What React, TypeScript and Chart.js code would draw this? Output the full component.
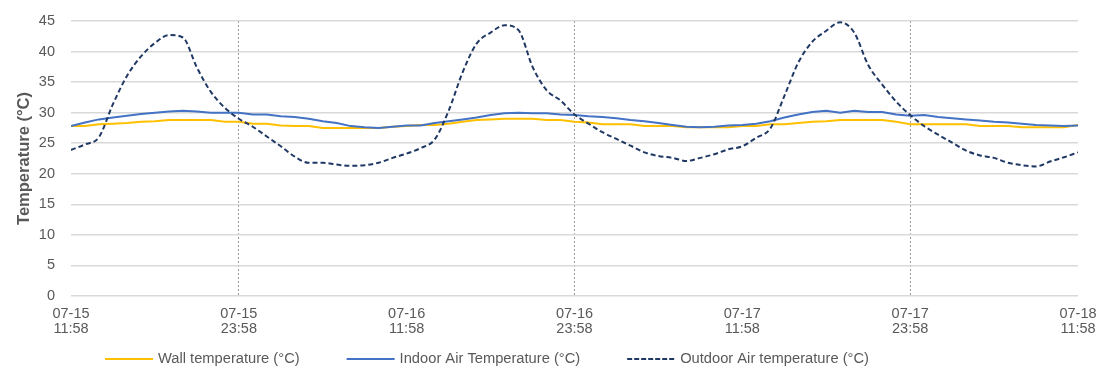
import React, { useEffect, useRef } from "react";
import { Chart, registerables } from "chart.js";

Chart.register(...registerables);

// Hours elapsed since 07-15 11:58
const HOURS = [
  0, 1, 2, 3, 4, 5, 6, 7, 8, 9, 10, 11, 12, 13, 14, 15, 16, 17, 18, 19, 20, 21, 22, 23,
  24, 25, 26, 27, 28, 29, 30, 31, 32, 33, 34, 35, 36, 37, 38, 39, 40, 41, 42, 43, 44, 45, 46, 47,
  48, 49, 50, 51, 52, 53, 54, 55, 56, 57, 58, 59, 60, 61, 62, 63, 64, 65, 66, 67, 68, 69, 70, 71, 72,
];

const WALL_TEMP = [
  27.8, 27.8, 28.1, 28.2, 28.3, 28.5, 28.6, 28.8, 28.8, 28.8, 28.8, 28.5, 28.5, 28.2, 28.2, 27.9,
  27.8, 27.8, 27.5, 27.5, 27.5, 27.5, 27.5, 27.7,
  27.8, 28.0, 28.0, 28.2, 28.5, 28.8, 28.9, 29.0, 29.0, 29.0, 28.8, 28.8, 28.5, 28.4, 28.1, 28.1,
  28.1, 27.8, 27.8, 27.8, 27.6, 27.6, 27.6, 27.6,
  27.8, 27.8, 28.1, 28.1, 28.3, 28.5, 28.6, 28.8, 28.8, 28.8, 28.8, 28.5, 28.1, 28.1, 28.1, 28.1,
  28.1, 27.8, 27.8, 27.8, 27.6, 27.6, 27.6, 27.6, 28.0,
];

const INDOOR_TEMP = [
  27.8, 28.4, 28.9, 29.2, 29.5, 29.8, 30.0, 30.2, 30.3, 30.2, 30.0, 30.0, 30.0, 29.7, 29.7, 29.4,
  29.3, 29.0, 28.6, 28.3, 27.8, 27.6, 27.5, 27.7,
  27.9, 27.9, 28.3, 28.6, 28.9, 29.2, 29.6, 29.9, 30.0, 29.9, 29.9, 29.7, 29.6, 29.4, 29.3, 29.1,
  28.8, 28.6, 28.3, 28.0, 27.7, 27.6, 27.7, 27.9,
  28.0, 28.2, 28.6, 29.2, 29.7, 30.1, 30.3, 30.0, 30.3, 30.1, 30.1, 29.7, 29.5, 29.6, 29.3, 29.1,
  28.9, 28.7, 28.5, 28.4, 28.2, 28.0, 27.9, 27.8, 27.9,
];

const OUTDOOR_TEMP = [
  23.9, 24.8, 26.0, 31.4, 36.0, 39.2, 41.4, 42.7, 42.3, 37.4, 33.4, 30.8, 29.0, 27.7, 26.1, 24.5,
  22.8, 21.8, 21.8, 21.5, 21.3, 21.4, 21.8, 22.6,
  23.3, 24.2, 25.6, 30.3, 36.6, 41.3, 43.1, 44.3, 43.5, 37.5, 33.7, 32.0, 29.7, 28.2, 26.8, 25.7,
  24.6, 23.5, 22.9, 22.6, 22.1, 22.6, 23.2, 24.0,
  24.5, 25.9, 27.4, 32.7, 38.2, 41.6, 43.4, 44.8, 43.1, 37.8, 34.6, 31.8, 29.6, 27.8, 26.4, 25.1,
  23.8, 23.0, 22.6, 21.8, 21.4, 21.2, 22.0, 22.7, 23.5,
];

const TICK_HOURS = [0, 12, 24, 36, 48, 60, 72];
const TICK_LABELS = [
  ["07-15", "11:58"],
  ["07-15", "23:58"],
  ["07-16", "11:58"],
  ["07-16", "23:58"],
  ["07-17", "11:58"],
  ["07-17", "23:58"],
  ["07-18", "11:58"],
];

const SERIES_LABELS = ["Wall temperature (°C)", "Indoor Air Temperature (°C)", "Outdoor Air temperature (°C)"];

const FONT = "'Liberation Sans', Arial, sans-serif";
const TEXT_COLOR = "#595959";
const CLEAR = "rgba(0,0,0,0)";

const lineLegend = {
  id: "lineLegend",
  afterDraw(chart: any) {
    const ctx = chart.ctx as CanvasRenderingContext2D;
    ctx.save();
    ctx.font = `14.7px ${FONT}`;
    ctx.textBaseline = "middle";
    ctx.textAlign = "left";
    const y = 359;
    let x = 105;
    chart.data.datasets.forEach((ds: any) => {
      ctx.strokeStyle = ds.borderColor;
      ctx.lineWidth = 2;
      ctx.setLineDash(ds.borderDash && ds.borderDash.length ? [5, 2] : []);
      ctx.beginPath();
      ctx.moveTo(x, y);
      ctx.lineTo(x + 48, y);
      ctx.stroke();
      ctx.setLineDash([]);
      ctx.fillStyle = TEXT_COLOR;
      ctx.fillText(ds.label, x + 53, y);
      x += 53 + ctx.measureText(ds.label).width + 47;
    });
    ctx.restore();
  },
};

export default function App() {
  const ref = useRef<HTMLCanvasElement | null>(null);

  useEffect(() => {
    document.body.style.margin = "0";
    if (!ref.current) return;
    const chart = new Chart(ref.current, {
      type: "line",
      data: {
        datasets: [
          {
            label: SERIES_LABELS[0],
            data: HOURS.map((h, i) => ({ x: h, y: WALL_TEMP[i] })),
            borderColor: "#FFC000",
            borderWidth: 2,
            pointRadius: 0,
            tension: 0,
            order: 2,
          },
          {
            label: SERIES_LABELS[1],
            data: HOURS.map((h, i) => ({ x: h, y: INDOOR_TEMP[i] })),
            borderColor: "#4472C4",
            borderWidth: 2,
            pointRadius: 0,
            tension: 0,
            order: 1,
          },
          {
            label: SERIES_LABELS[2],
            data: HOURS.map((h, i) => ({ x: h, y: OUTDOOR_TEMP[i] })),
            borderColor: "#203864",
            borderWidth: 2,
            borderDash: [5, 3],
            pointRadius: 0,
            cubicInterpolationMode: "monotone",
            order: 0,
          },
        ],
      },
      options: {
        animation: false,
        responsive: false,
        devicePixelRatio: 1,
        layout: { padding: { left: 0, right: 21, top: 21, bottom: 0 } },
        plugins: {
          legend: { display: false },
          tooltip: { enabled: false },
        },
        scales: {
          x: {
            type: "linear",
            min: 0,
            max: 72,
            afterFit: (scale: any) => {
              scale.height = 71;
            },
            border: { display: false, dash: [2, 2] },
            grid: {
              drawTicks: true,
              tickLength: 11,
              tickColor: CLEAR,
              lineWidth: 1,
              color: (c: any) => (c.tick && c.tick.value % 24 === 12 ? "#999999" : CLEAR),
            },
            ticks: {
              stepSize: 12,
              autoSkip: false,
              maxRotation: 0,
              padding: 0,
              color: TEXT_COLOR,
              font: { family: FONT, size: 14.5, lineHeight: 1.0 },
              callback: (value: any) => {
                const i = TICK_HOURS.indexOf(Number(value));
                return i >= 0 ? TICK_LABELS[i] : "";
              },
            },
          },
          y: {
            min: 0,
            max: 45,
            afterFit: (scale: any) => {
              scale.width = 71;
            },
            border: { display: false },
            grid: { drawTicks: true, tickLength: 16, tickColor: CLEAR, color: "#d9d9d9", lineWidth: 1.5 },
            ticks: {
              stepSize: 5,
              padding: 0,
              color: TEXT_COLOR,
              font: { family: FONT, size: 14.5 },
            },
            title: {
              display: true,
              text: "Temperature (°C)",
              color: TEXT_COLOR,
              font: { family: FONT, size: 16.5, weight: "bold" },
              padding: { top: 14.5, bottom: 0 },
            },
          },
        },
      },
      plugins: [lineLegend],
    } as any);
    return () => chart.destroy();
  }, []);

  return (
    <div style={{ width: 1099, height: 367 }}>
      <canvas ref={ref} width={1099} height={367} style={{ display: "block" }} />
    </div>
  );
}
